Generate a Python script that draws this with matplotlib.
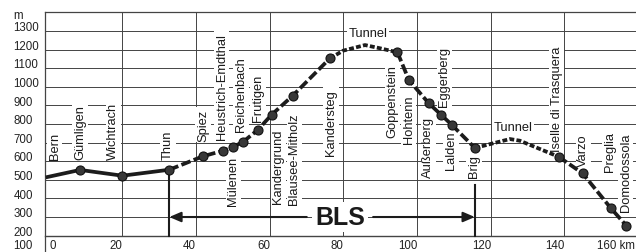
import matplotlib.pyplot as plt

plt.rcParams['font.family'] = ['Liberation Sans', 'DejaVu Sans']

# height profile: km from Bern, metres above sea level
prof_km = [-0.7, 8.6, 20.1, 32.8, 41.9, 47.3, 50.0, 52.9, 56.8, 60.6, 66.3, 76.4,
           80.0, 85.9, 89.9, 94.7, 97.8, 103.2, 106.5, 109.4, 115.7,
           125.2, 127.9, 138.4, 144.9, 152.6, 156.8]
prof_m = [513, 553, 522, 554, 626, 656, 675, 705, 768, 850, 952, 1153,
          1194, 1224, 1207, 1185, 1036, 911, 850, 796, 671,
          719, 710, 624, 535, 347, 253]

# stations (index into profile), Bern has no dot
stations = ["Bern", "Gümligen", "Wichtrach", "Thun", "Spiez", "Heustrich-Emdthal",
            "Mülenen", "Reichenbach", "Frutigen", "Kandergrund", "Blausee-Mitholz",
            "Kandersteg", "Goppenstein", "Hohtenn", "Außerberg", "Eggerberg",
            "Lalden", "Brig", "Iselle di Trasquera", "Varzo", "Preglia", "Domodossola"]
station_idx = [0, 1, 2, 3, 4, 5, 6, 7, 8, 9, 10, 11, 15, 16, 17, 18, 19, 20, 23, 24, 25, 26]

# sections: (from, to, kind)
sections = [(0, 3, "open"), (3, 11, "dash"), (11, 15, "tunnel"), (15, 20, "dash"),
            (20, 23, "tunnel"), (23, 26, "dash")]

# label layout: x (km), y (m), side
label_x = [1.7, 8.6, 17.6, 32.5, 42.0, 47.0, 50.2, 52.3, 56.9, 62.4, 66.7, 76.7,
           93.3, 97.7, 103.1, 107.4, 109.2, 115.5, 137.9, 145.1, 152.3, 156.6]
label_y = [612, 612, 612, 612, 710, 719, 629, 764, 818, 773, 863, 988,
           1122, 961, 844, 898, 764, 639, 656, 576, 549, 334]
label_side = ["a", "a", "a", "a", "a", "a", "b", "a", "a", "b", "b", "b",
              "b", "b", "b", "a", "b", "b", "a", "a", "a", "a"]

y_ticks = [100, 200, 300, 400, 500, 600, 700, 800, 900, 1000, 1100, 1200, 1300]
x_ticks = [0, 20, 40, 60, 80, 100, 120, 140, 160]

fig = plt.figure(figsize=(6.36, 2.53), dpi=100)
ax = fig.add_axes([0, 0, 1, 1])
ax.set_xlim(-13.1, 159.4)
ax.set_ylim(112, 1471.5)
ax.axis('off')

grid_c = '#444444'
left = -0.8
right = 159.4
for y in y_ticks[1:]:
    ax.plot([left, right], [y, y], color=grid_c, lw=1.0 if y == 200 else 0.7, zorder=1)
ax.plot([left, right], [1400, 1400], color=grid_c, lw=0.9, zorder=1)
ax.plot([left, left], [120, 1400], color=grid_c, lw=0.9, zorder=1)
for x in x_ticks[1:]:
    ax.plot([x, x], [200, 1400], color=grid_c, lw=0.7, zorder=1)

# axis labels
for y in y_ticks:
    ty = 148 if y == 100 else y + 20
    ax.text(-9.5, ty, str(y), ha='left', va='center', fontsize=8.3, color='#222')
ax.text(-9.5, 1385, "m", ha='left', va='center', fontsize=8.3, color='#222')
for x in x_ticks:
    if x == 0:
        ax.text(0.2, 150, "0", ha='left', va='center', fontsize=8.3, color='#222')
    elif x == 160:
        ax.text(159.1, 150, "160 km", ha='right', va='center', fontsize=8.3, color='#222')
    else:
        ax.text(x + 0.1, 150, str(x), ha='right', va='center', fontsize=8.3, color='#222')

# profile
line_c = '#1c1c1c'
styles = {"open": '-', "dash": (0, (2.6, 0.9)), "tunnel": (0, (1.3, 0.6))}
for a, b, kind in sections:
    ax.plot(prof_km[a:b + 1], prof_m[a:b + 1], color=line_c, lw=2.7,
            linestyle=styles[kind], solid_capstyle='butt', dash_capstyle='butt', zorder=3)
sx = [prof_km[i] for i in station_idx[1:]]
sy = [prof_m[i] for i in station_idx[1:]]
ax.plot(sx, sy, 'o', ms=6.5, mfc='#383838', mec='#111', mew=0.8, zorder=4)

# station labels
for name, x, y, side in zip(stations, label_x, label_y, label_side):
    ax.text(x, y, name, rotation=90, ha='center', va='bottom' if side == "a" else 'top',
            fontsize=9.3, color='#1a1a1a', zorder=2,
            bbox=dict(facecolor='white', edgecolor='none', pad=1.2))

ax.text(86.8, 1290, "Tunnel", ha='center', va='center', fontsize=9.3, color='#1a1a1a',
        zorder=2, bbox=dict(facecolor='white', edgecolor='none', pad=1.2))
ax.text(126.0, 785, "Tunnel", ha='center', va='center', fontsize=9.3, color='#1a1a1a',
        zorder=2, bbox=dict(facecolor='white', edgecolor='none', pad=1.2))

# BLS span
thun = prof_km[3]
brig = prof_km[20]
ax.plot([thun, thun], [200, prof_m[3]], color=line_c, lw=1.5, zorder=2)
ax.plot([brig, brig], [200, 470], color=line_c, lw=1.5, zorder=2)
arrow = dict(arrowstyle='-|>,head_length=0.7,head_width=0.3', color=line_c, lw=1.5,
             mutation_scale=10, shrinkA=0, shrinkB=0)
ax.annotate("", xy=(thun, 300), xytext=(70.1, 300), arrowprops=arrow, zorder=2)
ax.annotate("", xy=(brig, 300), xytext=(88.1, 300), arrowprops=arrow, zorder=2)
ax.text(79.1, 300, "BLS", ha='center', va='center', fontsize=18, fontweight='bold',
        color='#1a1a1a', zorder=3, bbox=dict(facecolor='white', edgecolor='none', pad=2))

fig.savefig("out.png", dpi=100)
